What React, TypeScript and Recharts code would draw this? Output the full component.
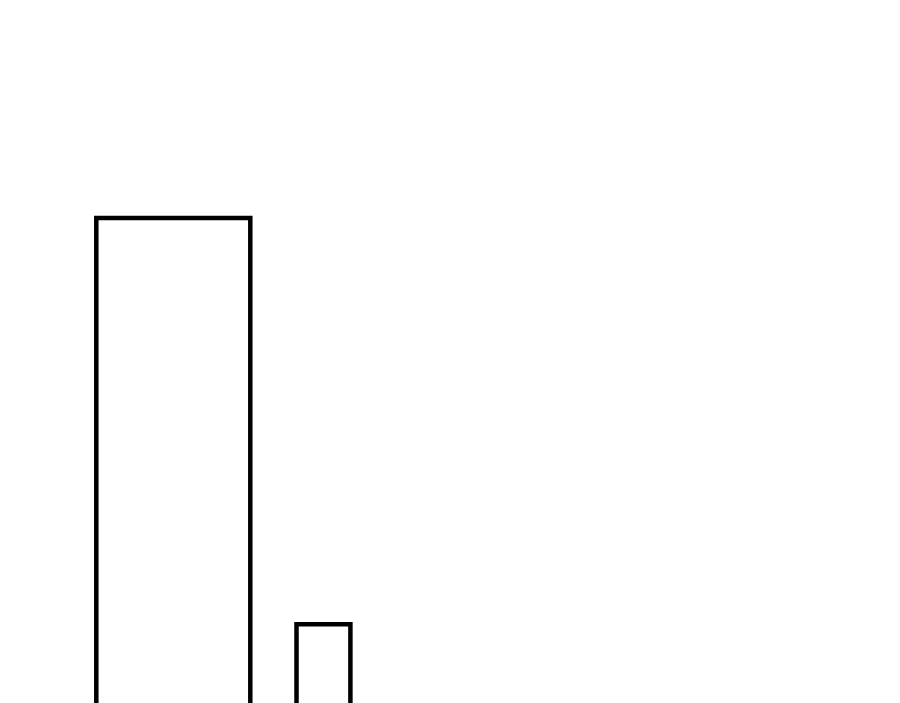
import { ComposedChart, XAxis, YAxis, ReferenceArea } from 'recharts';

// histogram bins (left edge, right edge) and counts
const binStart = [0, 26];
const binEnd = [20, 33];
const counts = [100, 20];

const data = binStart.map((s, i) => ({ x: (s + binEnd[i]) / 2, count: counts[i] }));

const App = () => {
  return (
    <div style={{ position: 'fixed', top: 0, left: 0, width: 900, height: 703, overflow: 'hidden', background: '#fff' }}>
      <ComposedChart
        width={900}
        height={760}
        data={data}
        margin={{ top: 116.4, right: 33.7, bottom: 34.1, left: 96.3 }}
      >
        <XAxis type="number" dataKey="x" domain={[0, 100]} allowDataOverflow hide />
        <YAxis type="number" domain={[0, 120]} allowDataOverflow hide />
        {binStart.map((s, i) => (
          <ReferenceArea
            key={i}
            x1={s}
            x2={binEnd[i]}
            y1={0}
            y2={counts[i]}
            fill="#fff"
            fillOpacity={1}
            stroke="#000"
            strokeWidth={4.5}
            ifOverflow="visible"
          />
        ))}
      </ComposedChart>
    </div>
  )
}

export default App
